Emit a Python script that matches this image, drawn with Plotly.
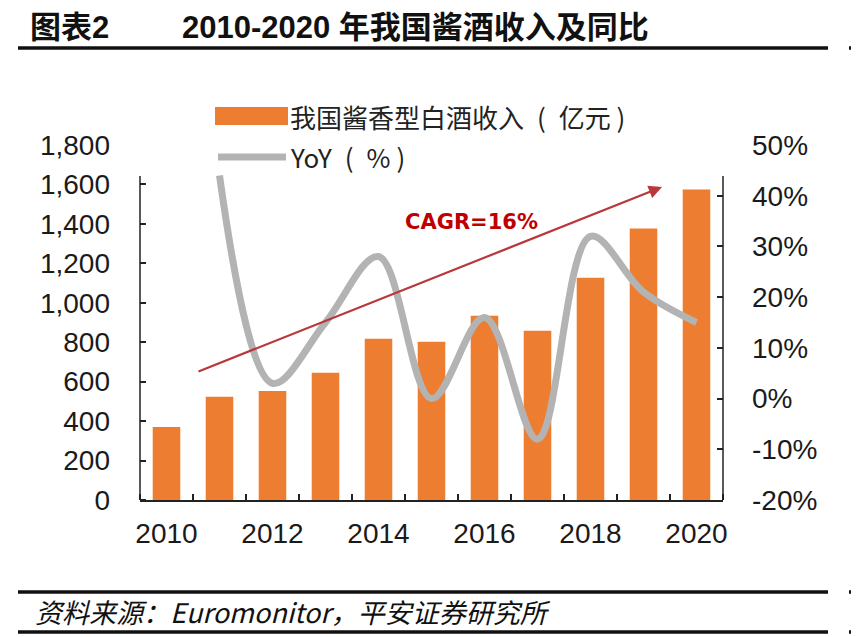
import plotly.graph_objects as go

years = [2010, 2011, 2012, 2013, 2014, 2015, 2016, 2017, 2018, 2019, 2020]
revenue = [370, 523, 553, 645, 817, 802, 934, 858, 1127, 1376, 1574]
yoy_years = [2011, 2012, 2013, 2014, 2015, 2016, 2017, 2018, 2019, 2020]
yoy = [44, 3, 15, 28, 0, 16, -8, 32, 21, 15]
left_ticks = [0, 200, 400, 600, 800, 1000, 1200, 1400, 1600, 1800]
right_ticks = [-20, -10, 0, 10, 20, 30, 40, 50]
right_labels = ["-20%", "-10%", "0%", "10%", "20%", "30%", "40%", "50%"]
x_labels = [2010, 2012, 2014, 2016, 2018, 2020]

W, H = 859, 637
OFF = 8  # page body margin
PL, PT, PR, PB = 140, 145, 723, 500  # plot area in page pixels
L, T = PL - OFF, PT - OFF
PW, PH = PR - PL, PB - PT
R, B = W - L - PW, H - T - PH

def px(x):
    return (x - PL) / PW

def py(y):
    return (PB - y) / PH

CJK = "Noto Sans CJK SC"
LAT = "Liberation Sans"
MIX = "Liberation Sans, Noto Sans CJK SC"
ORANGE = "#ED7D31"
GRAY = "#B3B3B3"
TICKFONT = dict(family=LAT, size=28, color="#1a1a1a")

fig = go.Figure()
fig.add_trace(go.Bar(x=years, y=revenue, marker_color=ORANGE, width=0.52,
                     marker_line_width=0, yaxis="y", showlegend=False))
fig.add_trace(go.Scatter(x=yoy_years, y=yoy, mode="lines", yaxis="y2",
                         line=dict(color=GRAY, width=7, shape="spline", smoothing=1),
                         showlegend=False, cliponaxis=True))

fig.update_layout(
    width=W, height=H, margin=dict(l=L, r=R, t=T, b=B, pad=0),
    paper_bgcolor="white", plot_bgcolor="white",
    font=dict(family=LAT, size=20, color="#1a1a1a"),
    xaxis=dict(range=[2009.5, 2020.5], tickvals=x_labels, ticks="", showgrid=False,
               zeroline=False, showline=True, linecolor="#222", linewidth=1.5,
               tickfont=TICKFONT, ticklabelstandoff=8,
               minor=dict(tickvals=[y + 0.5 for y in range(2009, 2021)], ticks="inside",
                          ticklen=6, tickcolor="#222", tickwidth=1.5)),
    yaxis=dict(range=[0, 1800], tickvals=left_ticks, tickformat=",", ticks="",
               showgrid=False, zeroline=False, showline=False,
               tickfont=TICKFONT, ticklabelstandoff=29,
               minor=dict(tickvals=left_ticks[:-1], ticks="inside", ticklen=6,
                          tickcolor="#222", tickwidth=1.5)),
    yaxis2=dict(range=[-20, 50], tickvals=right_ticks, ticktext=right_labels,
                overlaying="y", side="right", ticks="", showgrid=False, zeroline=False,
                showline=False, tickfont=TICKFONT, ticklabelstandoff=28,
                minor=dict(tickvals=right_ticks[1:-1], ticks="inside", ticklen=6,
                           tickcolor="#222", tickwidth=1.5)),
)

shapes = []
for xx in (PL, PR):
    shapes.append(dict(type="line", xref="paper", yref="paper", x0=px(xx), x1=px(xx),
                       y0=0, y1=py(176), line=dict(color="#222", width=1.5)))
for yy, wd in ((48, 3.5), (592, 3.5), (632, 3.5)):
    shapes.append(dict(type="line", xref="paper", yref="paper", x0=px(18), x1=px(828),
                       y0=py(yy), y1=py(yy), line=dict(color="#111", width=wd)))
    shapes.append(dict(type="line", xref="paper", yref="paper", x0=px(849), x1=px(859),
                       y0=py(yy), y1=py(yy), line=dict(color="#111", width=wd)))
shapes.append(dict(type="rect", xref="paper", yref="paper", x0=px(215), x1=px(288),
                   y0=py(125), y1=py(107), fillcolor=ORANGE, line=dict(width=0)))
shapes.append(dict(type="line", xref="paper", yref="paper", x0=px(218), x1=px(286),
                   y0=py(157), y1=py(157), line=dict(color=GRAY, width=7)))
fig.update_layout(shapes=shapes)

ann = []
ann.append(dict(text="<b>图表2</b>", x=px(28), y=py(27), xref="paper", yref="paper",
                xanchor="left", yanchor="middle", showarrow=False,
                font=dict(family=MIX, size=31, color="#111")))
ann.append(dict(text="<b>2010-2020 年我国酱酒收入及同比</b>", x=px(180), y=py(27),
                xref="paper", yref="paper", xanchor="left", yanchor="middle",
                showarrow=False, font=dict(family=MIX, size=31, color="#111")))
ann.append(dict(text="<i>资料来源：Euromonitor，平安证券研究所</i>", x=px(33), y=py(611),
                xref="paper", yref="paper", xanchor="left", yanchor="middle",
                showarrow=False, font=dict(family=CJK, size=27, color="#111")))
ann.append(dict(text="我国酱香型白酒收入\u2002(\u2002亿元 )", x=px(288), y=py(116),
                xref="paper", yref="paper", xanchor="left", yanchor="middle",
                showarrow=False, font=dict(family=CJK, size=26, color="#222")))
ann.append(dict(text="YoY\u2002(\u2002% )", x=px(288), y=py(157), xref="paper",
                yref="paper", xanchor="left", yanchor="middle", showarrow=False,
                font=dict(family=CJK, size=26, color="#222")))
ann.append(dict(text="<b>CAGR=16%</b>", x=px(471), y=py(222), xref="paper", yref="paper",
                xanchor="center", yanchor="middle", showarrow=False,
                font=dict(family="DejaVu Sans", size=21, color="#C00000")))
ann.append(dict(text="", x=px(662), y=py(187), xref="paper", yref="paper",
                axref="pixel", ayref="pixel", ax=197 - 662, ay=372 - 187,
                showarrow=True, arrowhead=2, arrowsize=1.2, arrowwidth=2.2,
                arrowcolor="#B8383B"))
fig.update_layout(annotations=ann)

fig.write_html("out.html")
